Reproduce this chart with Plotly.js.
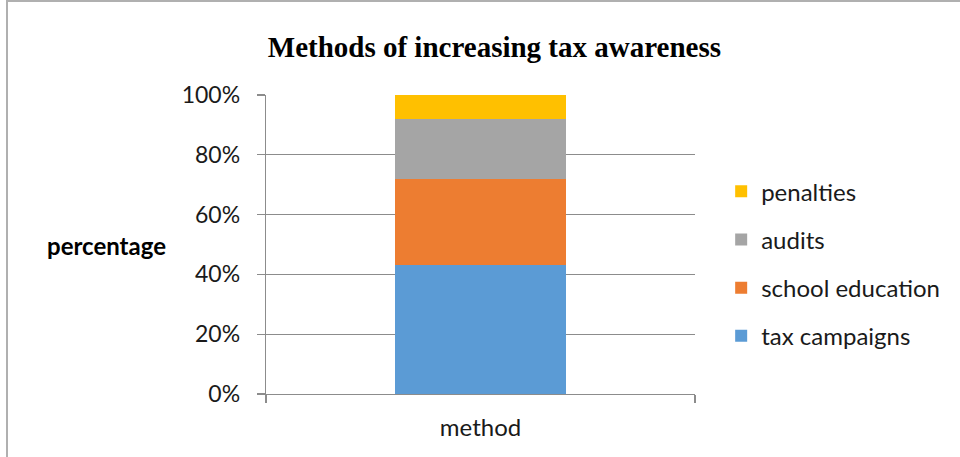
<!DOCTYPE html>
<html>
<head>
<meta charset="utf-8">
<script src="https://cdn.plot.ly/plotly-3.0.1.min.js"></script>
<style>
  html, body { margin: 0; padding: 0; background: #ffffff; overflow: hidden; }
  #frame {
    position: absolute; left: 6px; top: 0px; width: 1000px; height: 500px;
    border-left: 2px solid #b0b0b0; border-top: 2px solid #b0b0b0;
  }
  #chart { position: absolute; left: 0; top: 0; width: 960px; height: 457px; }
</style>
</head>
<body>
<div id="frame"></div>
<div id="chart"></div>
<script>
// Shares of each method, in percent of responses
const categories = ['method'];
const seriesNames = ['tax campaigns', 'school education', 'audits', 'penalties'];
const taxCampaigns = [43];
const schoolEducation = [29];
const audits = [20];
const penalties = [8];
const yTickVals = [0, 20, 40, 60, 80, 100];
const yTickText = ['0%', '20%', '40%', '60%', '80%', '100%'];

const colors = ['#5B9BD5', '#ED7D31', '#A5A5A5', '#FFC000'];
const seriesValues = [taxCampaigns, schoolEducation, audits, penalties];

const sansFamily = 'Lato, "Open Sans", sans-serif';

// Stack bottom-up; legend lists the top segment first
const traces = seriesNames.map((name, i) => ({
  type: 'bar',
  name: name,
  x: categories,
  y: seriesValues[i],
  marker: { color: colors[i], line: { width: 0 } },
  legendgroup: 'g' + i,
  legendrank: seriesNames.length - i,
  hoverinfo: 'name+y'
}));

const layout = {
  width: 960,
  height: 457,
  paper_bgcolor: 'rgba(0,0,0,0)',
  plot_bgcolor: 'rgba(0,0,0,0)',
  margin: { l: 266, r: 265, t: 95, b: 63 },
  barmode: 'stack',
  bargap: 0.6,
  showlegend: true,
  title: {
    text: '<b>Methods of increasing tax awareness</b>',
    font: { family: '"Liberation Serif", "Times New Roman", serif', size: 29, color: '#000000' },
    x: 0.515, xanchor: 'center',
    y: 0.897, yanchor: 'middle'
  },
  xaxis: {
    type: 'category',
    tickson: 'boundaries',
    ticks: 'outside',
    ticklen: 8,
    tickcolor: '#8c8c8c',
    tickwidth: 1.3,
    showline: true,
    linecolor: '#8c8c8c',
    linewidth: 1.3,
    showgrid: false,
    tickfont: { family: sansFamily, size: 24, color: '#1a1a1a' },
    ticklabelstandoff: 12,
    range: [-0.5, 0.5],
    fixedrange: true
  },
  yaxis: {
    range: [0, 100],
    tickvals: yTickVals,
    ticktext: yTickText,
    ticks: 'outside',
    ticklen: 8,
    tickcolor: '#8c8c8c',
    tickwidth: 1.3,
    showline: true,
    linecolor: '#8c8c8c',
    linewidth: 1.3,
    showgrid: true,
    gridcolor: '#8c8c8c',
    gridwidth: 1.3,
    zeroline: false,
    tickfont: { family: sansFamily, size: 23, color: '#1a1a1a' },
    ticklabelstandoff: 12,
    fixedrange: true
  },
  legend: {
    traceorder: 'grouped',
    tracegroupgap: 14,
    font: { family: sansFamily, size: 24, color: '#1a1a1a' },
    x: 1.061, xanchor: 'left',
    y: 0.436, yanchor: 'middle',
    bgcolor: 'rgba(0,0,0,0)'
  },
  annotations: [{
    text: '<b>percentage</b>',
    xref: 'paper', yref: 'paper',
    x: -0.371, y: 0.496,
    xanchor: 'center', yanchor: 'middle',
    showarrow: false,
    font: { family: sansFamily, size: 24, color: '#000000' }
  }]
};

Plotly.newPlot('chart', traces, layout, { displayModeBar: false, staticPlot: true });
</script>
</body>
</html>
